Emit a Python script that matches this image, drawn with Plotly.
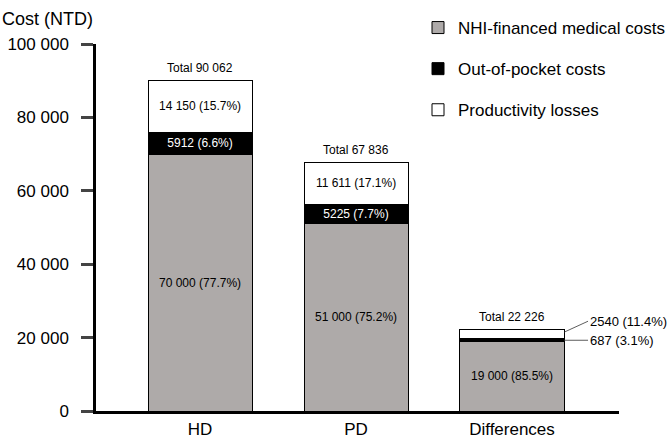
import plotly.graph_objects as go

categories = ["HD", "PD", "Differences"]
nhi_costs = [70000, 51000, 19000]
nhi_pct = [77.7, 75.2, 85.5]
oop_costs = [5912, 5225, 687]
oop_pct = [6.6, 7.7, 3.1]
prod_losses = [14150, 11611, 2540]
prod_pct = [15.7, 17.1, 11.4]
totals = [90062, 67836, 22226]
y_ticks = [0, 20000, 40000, 60000, 80000, 100000]

FONT = "Arial, Liberation Sans, sans-serif"
GRAY = "#AEAAA9"


def fmt(v):
    return f"{v:,}".replace(",", " ") if v >= 10000 else str(v)


def label(v, p):
    return f"{fmt(v)} ({p}%)"


# Segments of the "Differences" bar are too thin for inside labels
inside_oop = [label(v, p) if i < 2 else "" for i, (v, p) in enumerate(zip(oop_costs, oop_pct))]
inside_prod = [label(v, p) if i < 2 else "" for i, (v, p) in enumerate(zip(prod_losses, prod_pct))]

fig = go.Figure()
common = dict(width=0.667, marker_line_color="black", marker_line_width=1,
              textposition="inside", insidetextanchor="middle", textangle=0,
              constraintext="none", cliponaxis=False)
fig.add_trace(go.Bar(x=categories, y=nhi_costs, name="NHI-financed medical costs",
                     marker_color=GRAY, text=[label(v, p) for v, p in zip(nhi_costs, nhi_pct)],
                     textfont=dict(color="black", size=12, family=FONT), legendgroup="a", **common))
fig.add_trace(go.Bar(x=categories, y=oop_costs, name="Out-of-pocket costs",
                     marker_color="black", text=inside_oop,
                     textfont=dict(color="white", size=12, family=FONT), legendgroup="b", **common))
fig.add_trace(go.Bar(x=categories, y=prod_losses, name="Productivity losses",
                     marker_color="white", text=inside_prod,
                     textfont=dict(color="black", size=12, family=FONT), legendgroup="c", **common))

# Totals above bars
for c, t in zip(categories, totals):
    fig.add_annotation(x=c, y=t, text=f"Total {fmt(t)}", showarrow=False, yanchor="bottom",
                       yshift=3, font=dict(size=12, family=FONT, color="black"))

# Callouts for the thin Differences segments
i = 2
xr = i + 0.667 / 2
fig.add_annotation(x=xr, y=nhi_costs[i] + oop_costs[i] + prod_losses[i] * 0.7,
                   text=label(prod_losses[i], prod_pct[i]), showarrow=True, arrowhead=0,
                   arrowwidth=0.8, arrowcolor="#333", ax=24, ay=-11, xanchor="left",
                   font=dict(size=13, family=FONT, color="black"))
fig.add_annotation(x=xr, y=nhi_costs[i] + oop_costs[i] * 0.4,
                   text=label(oop_costs[i], oop_pct[i]), showarrow=True, arrowhead=0,
                   arrowwidth=0.8, arrowcolor="#333", ax=24, ay=0, xanchor="left",
                   font=dict(size=13, family=FONT, color="black"))

fig.add_annotation(xref="paper", yref="paper", x=-96 / 523, y=1 + 25 / 367, xanchor="left",
                   yanchor="middle", text="Cost (NTD)", showarrow=False,
                   font=dict(size=18, family=FONT, color="black"))

fig.update_layout(
    width=669, height=438, barmode="stack", separators=". ",
    margin=dict(l=96, r=50, t=44, b=27, autoexpand=False),
    plot_bgcolor="white", paper_bgcolor="white",
    font=dict(family=FONT, color="black"),
    bargap=0.333,
    legend=dict(xref="container", yref="container", x=418 / 669, y=1 - 10 / 438,
                xanchor="left", yanchor="top", traceorder="grouped",
                tracegroupgap=16, font=dict(size=17, family=FONT), itemwidth=30,
                bgcolor="rgba(0,0,0,0)"),
)
fig.update_xaxes(range=[-0.667, 2.686], showline=True, linecolor="black", linewidth=2.5,
                 ticks="", tickfont=dict(size=17, family=FONT), ticklabelstandoff=1,
                 automargin=False)
fig.update_yaxes(range=[0, 100000], tickvals=y_ticks, tickformat=",d", showline=True,
                 linecolor="black", linewidth=2.5, ticks="outside", ticklen=12, tickwidth=2.5,
                 showgrid=False, zeroline=False, tickfont=dict(size=17, family=FONT),
                 ticklabelstandoff=9, automargin=False)

fig.write_html("out.html", post_script="document.body.style.margin='0px';",
               config={"displayModeBar": False})
